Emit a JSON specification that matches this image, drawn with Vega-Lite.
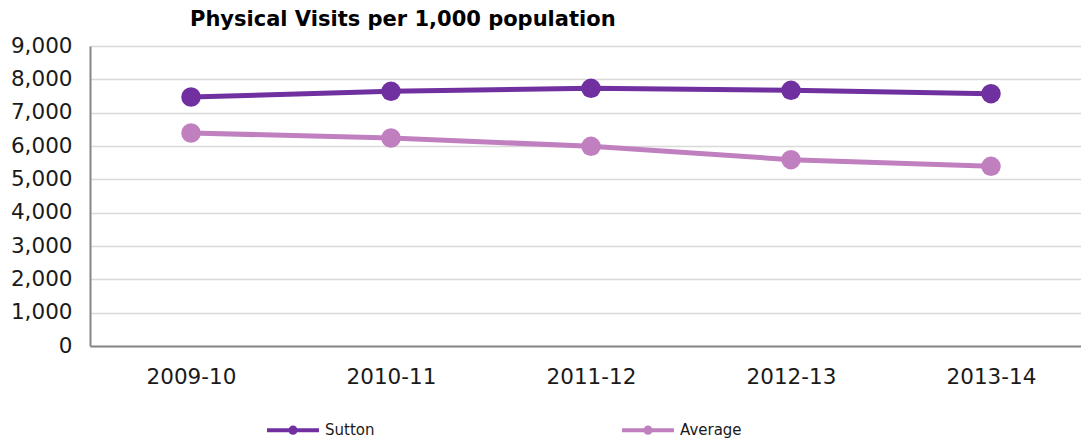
{
  "$schema": "https://vega.github.io/schema/vega-lite/v6.json",
  "autosize": "none",
  "width": 991,
  "height": 300,
  "padding": {"left": 90, "top": 46, "right": 0, "bottom": 95},
  "background": "white",
  "title": {
    "text": "Physical Visits per 1,000 population",
    "font": "DejaVu Sans",
    "fontSize": 21,
    "fontWeight": "bold",
    "color": "#000000",
    "anchor": "start",
    "frame": "group",
    "dx": 100,
    "offset": 5
  },
  "config": {
    "view": {"stroke": null},
    "font": "DejaVu Sans"
  },
  "data": {
    "values": [
      {"year": "2009-10", "series": "Sutton", "value": 7470},
      {"year": "2010-11", "series": "Sutton", "value": 7640},
      {"year": "2011-12", "series": "Sutton", "value": 7730},
      {"year": "2012-13", "series": "Sutton", "value": 7670},
      {"year": "2013-14", "series": "Sutton", "value": 7570},
      {"year": "2009-10", "series": "Average", "value": 6390},
      {"year": "2010-11", "series": "Average", "value": 6240},
      {"year": "2011-12", "series": "Average", "value": 5990},
      {"year": "2012-13", "series": "Average", "value": 5590},
      {"year": "2013-14", "series": "Average", "value": 5390}
    ]
  },
  "encoding": {
    "x": {
      "field": "year",
      "type": "ordinal",
      "sort": null,
      "scale": {"type": "point", "padding": 0.4775, "align": 0.5288},
      "axis": {
        "title": null,
        "labelAngle": 0,
        "labelFontSize": 21.5,
        "labelColor": "#1a1a1a",
        "labelPadding": 20,
        "ticks": false,
        "domainColor": "#868686",
        "domainWidth": 2,
        "grid": false
      }
    },
    "y": {
      "field": "value",
      "type": "quantitative",
      "scale": {"domain": [0, 9000], "nice": false},
      "axis": {
        "title": null,
        "values": [0, 1000, 2000, 3000, 4000, 5000, 6000, 7000, 8000, 9000],
        "format": ",d",
        "labelFontSize": 21.5,
        "labelColor": "#1a1a1a",
        "labelPadding": 18,
        "ticks": false,
        "domainColor": "#868686",
        "domainWidth": 2,
        "gridColor": "#d9d9d9",
        "gridWidth": 1.5
      }
    },
    "color": {
      "field": "series",
      "type": "nominal",
      "scale": {"domain": ["Sutton", "Average"], "range": ["#7030a0", "#c080c0"]}
    }
  },
  "layer": [
    {
      "mark": {"type": "line", "strokeWidth": 5},
      "encoding": {
        "color": {
          "field": "series",
          "type": "nominal",
          "scale": {"domain": ["Sutton", "Average"], "range": ["#7030a0", "#c080c0"]},
          "legend": {
            "title": null,
            "orient": "none",
            "direction": "horizontal",
            "legendX": 175,
            "legendY": 356,
            "symbolType": "M -1 0 L 1 0 M -0.1 0 A 0.1 0.1 0 1 0 0.1 0 A 0.1 0.1 0 1 0 -0.1 0",
            "symbolSize": 2700,
            "symbolStrokeWidth": 4,
            "labelFontSize": 15,
            "labelColor": "#1a1a1a",
            "labelOffset": 4,
            "columnPadding": 239
          }
        }
      }
    },
    {
      "mark": {"type": "point", "filled": true, "size": 380, "opacity": 1},
      "encoding": {
        "color": {
          "field": "series",
          "type": "nominal",
          "scale": {"domain": ["Sutton", "Average"], "range": ["#7030a0", "#c080c0"]},
          "legend": null
        }
      }
    }
  ]
}
